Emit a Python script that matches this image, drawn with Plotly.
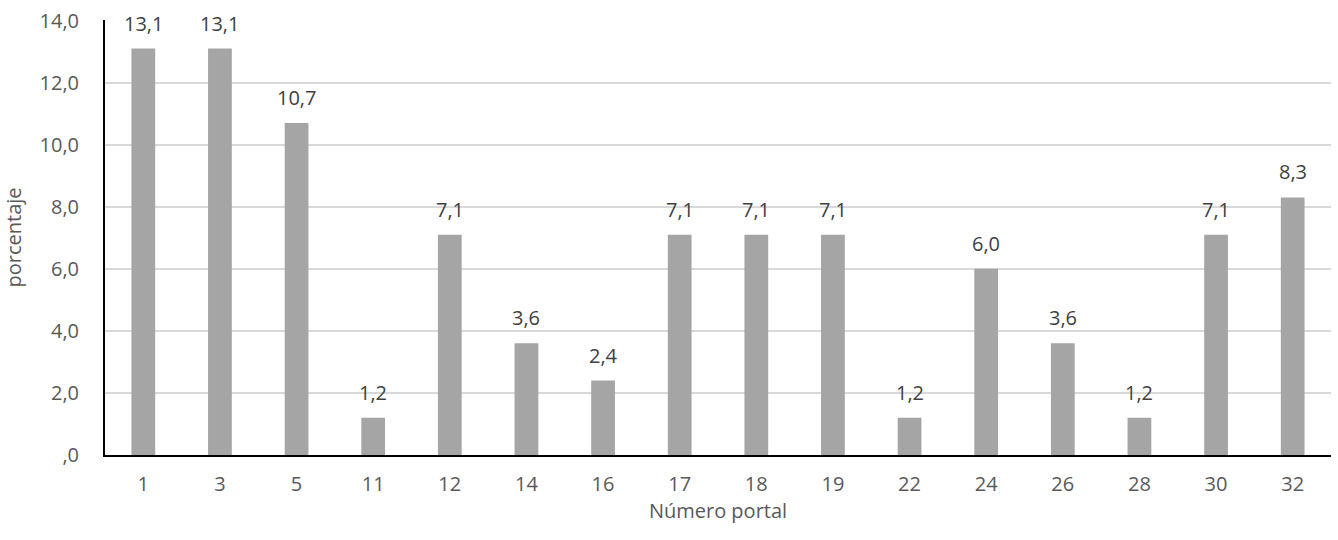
import plotly.graph_objects as go

categories = ["1", "3", "5", "11", "12", "14", "16", "17", "18", "19", "22", "24", "26", "28", "30", "32"]
values = [13.1, 13.1, 10.7, 1.2, 7.1, 3.6, 2.4, 7.1, 7.1, 7.1, 1.2, 6.0, 3.6, 1.2, 7.1, 8.3]
y_tickvals = [0, 2, 4, 6, 8, 10, 12, 14]
y_ticktext = [",0", "2,0", "4,0", "6,0", "8,0", "10,0", "12,0", "14,0"]

FONT = "Open Sans"
TXT = "#595959"
FS = 20

fig = go.Figure()
fig.add_trace(go.Bar(
    x=categories, y=values,
    marker=dict(color="#a5a5a5", line=dict(width=0)),
    width=0.31,
    hoverinfo="skip",
))

annotations = []
for i, v in enumerate(values):
    annotations.append(dict(
        x=i, y=v, xref="x", yref="y",
        text=f"{v:.1f}".replace(".", ","),
        showarrow=False, yanchor="bottom", yshift=10,
        font=dict(family=FONT, size=FS, color="#404040"),
    ))

fig.update_layout(
    width=1338, height=540,
    margin=dict(l=105, r=7, t=20, b=85),
    paper_bgcolor="white", plot_bgcolor="white",
    showlegend=False,
    annotations=annotations,
    font=dict(family=FONT, size=FS, color=TXT),
    xaxis=dict(
        type="category",
        range=[-0.5, len(categories) - 0.5],
        showline=True, linecolor="black", linewidth=2,
        showgrid=False, ticks="", ticklabelstandoff=10,
        tickfont=dict(family=FONT, size=FS, color=TXT),
        title=dict(text="Número portal", standoff=3,
                   font=dict(family=FONT, size=FS, color=TXT)),
        automargin=False,
    ),
    yaxis=dict(
        range=[0, 14.02],
        tickvals=y_tickvals, ticktext=y_ticktext,
        showline=True, linecolor="black", linewidth=2,
        showgrid=True, gridcolor="#d9d9d9", gridwidth=1.5,
        zeroline=False, ticks="", ticklabelstandoff=20,
        tickfont=dict(family=FONT, size=FS, color=TXT),
        title=dict(text="porcentaje", standoff=14,
                   font=dict(family=FONT, size=FS, color=TXT)),
        automargin=False,
    ),
)

fig.write_html("out.html", config={"displayModeBar": False},
               post_script="document.body.style.margin='0';")
